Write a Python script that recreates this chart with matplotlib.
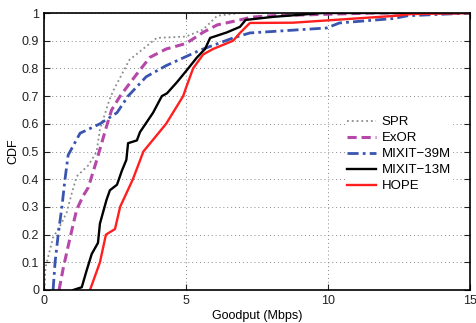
import matplotlib
matplotlib.use("Agg")
import matplotlib.pyplot as plt

plt.rcParams['font.family'] = ['Liberation Sans', 'DejaVu Sans']

# Goodput (Mbps) and CDF values
spr_x = [0.02, 0.05, 0.32, 0.56, 0.8, 0.98, 1.15, 1.56, 1.8, 1.86, 1.97, 2.3, 2.44, 2.85, 3.0, 3.97, 5.0, 5.6, 6.1, 6.9, 15.0]
spr_y = [0.0, 0.08, 0.19, 0.23, 0.28, 0.35, 0.41, 0.45, 0.49, 0.505, 0.58, 0.685, 0.72, 0.80, 0.83, 0.91, 0.915, 0.94, 0.99, 1.0, 1.0]

exor_x = [0.53, 0.68, 0.92, 1.15, 1.38, 1.56, 1.86, 2.2, 2.38, 2.68, 2.9, 3.27, 3.73, 4.3, 5.0, 5.6, 6.1, 6.9, 7.3, 8.0, 11.6, 15.0]
exor_y = [0.0, 0.08, 0.19, 0.29, 0.34, 0.37, 0.47, 0.59, 0.65, 0.70, 0.73, 0.78, 0.84, 0.87, 0.89, 0.93, 0.957, 0.975, 0.985, 0.99, 1.0, 1.0]

m39_x = [0.32, 0.39, 0.5, 0.63, 0.74, 0.85, 1.27, 1.97, 2.57, 2.96, 3.6, 4.3, 5.5, 6.66, 7.25, 9.96, 10.4, 12.3, 12.8, 15.0]
m39_y = [0.0, 0.1, 0.2, 0.3, 0.4, 0.487, 0.566, 0.60, 0.64, 0.70, 0.77, 0.81, 0.866, 0.91, 0.928, 0.946, 0.964, 0.98, 0.99, 1.0]

m13_x = [1.03, 1.33, 1.5, 1.68, 1.9, 1.97, 2.2, 2.32, 2.57, 2.74, 2.9, 2.96, 3.27, 3.38, 3.84, 4.15, 4.33, 4.68, 5.0, 5.39, 5.67, 5.85, 6.44, 6.9, 7.1, 8.06, 9.8, 15.0]
m13_y = [0.0, 0.01, 0.07, 0.13, 0.17, 0.24, 0.325, 0.36, 0.38, 0.43, 0.47, 0.53, 0.54, 0.57, 0.64, 0.70, 0.71, 0.75, 0.79, 0.84, 0.87, 0.91, 0.93, 0.95, 0.975, 0.986, 1.0, 1.0]

hope_x = [1.62, 1.97, 2.18, 2.5, 2.68, 3.13, 3.5, 4.3, 4.9, 5.0, 5.25, 5.6, 5.95, 6.66, 6.9, 7.25, 8.77, 12.4, 12.9, 15.0]
hope_y = [0.0, 0.1, 0.2, 0.22, 0.3, 0.4, 0.5, 0.6, 0.7, 0.73, 0.8, 0.85, 0.87, 0.9, 0.928, 0.964, 0.965, 0.99, 0.996, 1.0]

labels = ['SPR', 'ExOR', 'MIXIT\u221239M', 'MIXIT\u221213M', 'HOPE']
x_ticks = [0, 5, 10, 15]
y_ticks = [0, 0.1, 0.2, 0.3, 0.4, 0.5, 0.6, 0.7, 0.8, 0.9, 1]

fig = plt.figure(figsize=(4.77, 3.23), dpi=100)
ax = fig.add_axes([44/477, 33/323, 426/477, 277/323])

ax.plot(spr_x, spr_y, color='#8c8c8c', linestyle=':', lw=1.3, label=labels[0])
ax.plot(exor_x, exor_y, color='#b548a8', linestyle=(0, (3, 1.6)), lw=2.2, label=labels[1])
ax.plot(m39_x, m39_y, color='#3a55b0', linestyle=(0, (4, 1.5, 1, 1.5)), lw=2.0, label=labels[2])
ax.plot(m13_x, m13_y, color='black', linestyle='-', lw=1.7, label=labels[3])
ax.plot(hope_x, hope_y, color='#ff1f1f', linestyle='-', lw=1.7, label=labels[4])

ax.set_xlim(0, 15)
ax.set_ylim(0, 1)
ax.set_xticks(x_ticks)
ax.set_xticklabels([str(t) for t in x_ticks])
ax.set_yticks(y_ticks)
ax.set_yticklabels(['0'] + ['%.1f' % t for t in y_ticks[1:-1]] + ['1'])
ax.tick_params(direction='in', length=4, width=0.8, labelsize=9, top=True, right=True, colors='#222222')
ax.grid(True, linestyle=(0, (1, 3)), color='#888888', lw=0.7)
for s in ax.spines.values():
    s.set_linewidth(1.2)
ax.set_xlabel('Goodput (Mbps)', fontsize=9, labelpad=2)
ax.set_ylabel('CDF', fontsize=9, labelpad=2)

leg = ax.legend(loc='upper left', bbox_to_anchor=(338/477, 1 - 107/323), bbox_transform=fig.transFigure,
                frameon=True, fancybox=False, edgecolor='none', facecolor='white', framealpha=1,
                fontsize=9.5, handlelength=2.2, handletextpad=0.4, labelspacing=0.28, borderpad=0.2)

fig.savefig('out.png', dpi=100)
